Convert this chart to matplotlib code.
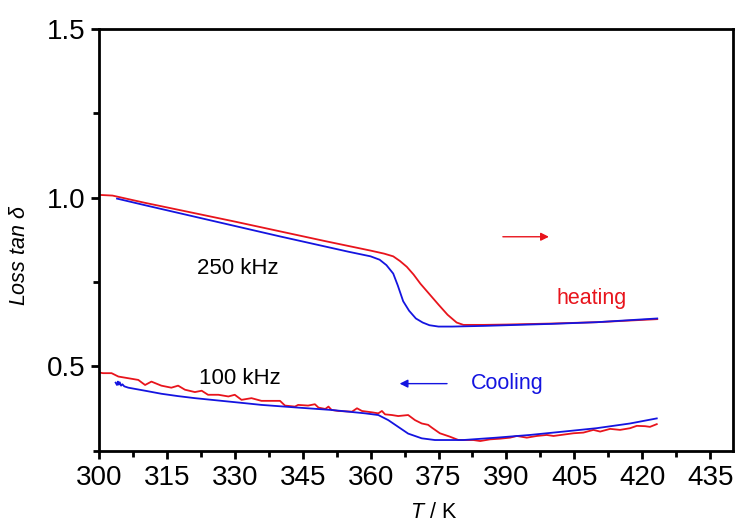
import matplotlib
matplotlib.use("Agg")
import matplotlib.pyplot as plt
from matplotlib.ticker import MultipleLocator

plt.rcParams['font.family'] = ['Liberation Sans', 'DejaVu Sans']
plt.rcParams['mathtext.fontset'] = 'custom'
plt.rcParams['mathtext.it'] = 'Liberation Sans:italic'
plt.rcParams['mathtext.rm'] = 'Liberation Sans'

# 250 kHz, heating
T250_h = [300.0, 303.0, 310.0, 320.0, 330.0, 340.0, 350.0, 355.0, 360.0, 363.0, 365.0,
          366.5, 368.0, 369.5, 371.0, 373.0, 375.0, 377.0, 379.0, 380.5, 385.0, 390.0,
          400.0, 410.0, 423.3]
L250_h = [1.008, 1.006, 0.985, 0.957, 0.929, 0.900, 0.871, 0.857, 0.843, 0.834, 0.826,
          0.812, 0.795, 0.772, 0.745, 0.714, 0.683, 0.653, 0.630, 0.623, 0.623, 0.624,
          0.627, 0.631, 0.640]

# 250 kHz, cooling
T250_c = [304.0, 310.0, 320.0, 330.0, 340.0, 350.0, 355.0, 360.0, 362.0, 363.5, 365.0,
          366.0, 367.2, 368.5, 370.0, 371.5, 373.0, 375.0, 378.0, 385.0, 400.0, 410.0, 423.3]
L250_c = [0.997, 0.978, 0.947, 0.916, 0.885, 0.855, 0.840, 0.826, 0.816, 0.800, 0.775,
          0.740, 0.693, 0.665, 0.642, 0.630, 0.622, 0.618, 0.618, 0.620, 0.626, 0.631, 0.642]

# 100 kHz, heating
T100_h = [300.0, 300.9, 302.8, 304.3, 306.5, 308.7, 310.2, 311.6, 313.8, 316.0, 317.5,
          319.0, 321.2, 322.7, 324.1, 326.4, 328.6, 330.0, 331.5, 333.7, 335.9, 338.2,
          340.0, 341.1, 343.3, 344.0, 346.2, 347.7, 348.5, 350.0, 350.7, 351.4, 352.9,
          355.9, 357.0, 358.1, 360.3, 361.7, 362.5, 363.2, 364.7, 366.1, 368.3, 369.8,
          371.3, 372.7, 373.6, 375.3, 377.5, 379.4, 382.7, 384.2, 386.4, 388.6, 390.8,
          392.3, 394.5, 396.7, 398.9, 400.4, 402.6, 404.8, 407.0, 409.2, 410.7, 412.9,
          415.1, 417.3, 418.8, 420.6, 421.7, 423.2]
L100_h = [0.482, 0.480, 0.480, 0.470, 0.465, 0.460, 0.445, 0.455, 0.443, 0.437, 0.443,
          0.431, 0.424, 0.428, 0.416, 0.416, 0.411, 0.416, 0.401, 0.406, 0.398, 0.398,
          0.398, 0.384, 0.381, 0.386, 0.384, 0.388, 0.378, 0.374, 0.381, 0.371, 0.368,
          0.366, 0.376, 0.368, 0.364, 0.361, 0.368, 0.358, 0.356, 0.353, 0.356, 0.341,
          0.331, 0.327, 0.318, 0.302, 0.292, 0.282, 0.282, 0.279, 0.284, 0.286, 0.289,
          0.294, 0.289, 0.294, 0.297, 0.294, 0.298, 0.302, 0.304, 0.312, 0.307, 0.315,
          0.312, 0.317, 0.324, 0.323, 0.321, 0.329]

# 100 kHz, cooling
T100_c = [303.7, 304.0, 304.2, 304.4, 304.6, 304.9, 305.2, 305.6, 306.5, 310.2, 313.8,
          317.5, 321.2, 324.9, 328.6, 332.3, 335.9, 344.0, 351.4, 358.8, 361.7, 363.9,
          366.1, 368.3, 371.3, 374.2, 380.5, 387.8, 395.2, 402.6, 409.9, 417.3, 423.2]
L100_c = [0.452, 0.445, 0.455, 0.446, 0.453, 0.443, 0.447, 0.441, 0.437, 0.428, 0.419,
          0.412, 0.406, 0.401, 0.396, 0.391, 0.386, 0.378, 0.371, 0.361, 0.356, 0.341,
          0.321, 0.301, 0.287, 0.282, 0.282, 0.289, 0.297, 0.307, 0.317, 0.331, 0.346]

rouge = '#e8141c'
bleu = '#1414e0'

fig = plt.figure(figsize=(7.38, 5.23), dpi=100)
ax = fig.add_axes([0.134, 0.138, 0.859, 0.807])

ax.plot(T250_h, L250_h, color=rouge, lw=1.3)
ax.plot(T250_c, L250_c, color=bleu, lw=1.3)
ax.plot(T100_h, L100_h, color=rouge, lw=1.3)
ax.plot(T100_c, L100_c, color=bleu, lw=1.3)

ax.text(330.7, 0.789, "250 kHz", fontsize=16, ha='center', va='center')
ax.text(331.1, 0.464, "100 kHz", fontsize=16, ha='center', va='center')
ax.text(408.9, 0.702, "heating", fontsize=15.5, color=rouge, ha='center', va='center')
ax.text(390.1, 0.449, "Cooling", fontsize=15.5, color=bleu, ha='center', va='center')

ax.annotate('', xy=(400.0, 0.884), xytext=(388.6, 0.884),
            arrowprops=dict(arrowstyle='-|>', color=rouge, lw=1, mutation_scale=12))
ax.annotate('', xy=(365.8, 0.449), xytext=(377.5, 0.449),
            arrowprops=dict(arrowstyle='-|>', color=bleu, lw=1, mutation_scale=12))

ax.set_xlim(300, 440)
ax.set_ylim(0.25, 1.5)
ax.xaxis.set_major_locator(MultipleLocator(15))
ax.xaxis.set_minor_locator(MultipleLocator(7.5))
ax.yaxis.set_major_locator(MultipleLocator(0.5))
ax.yaxis.set_minor_locator(MultipleLocator(0.25))
ax.yaxis.set_major_formatter(plt.FormatStrFormatter('%.1f'))

for s in ax.spines.values():
    s.set_linewidth(2)
ax.tick_params(which='major', direction='out', length=6, width=2, labelsize=20, pad=4)
ax.tick_params(which='minor', direction='out', length=4, width=2)

ax.set_xlabel("$T$ / K", fontsize=15.5, va='center')
ax.xaxis.set_label_coords(0.528, -0.146)
ax.set_ylabel("Loss $tan$ δ", fontsize=15.5, va='center')
ax.yaxis.set_label_coords(-0.125, 0.464)
ax.yaxis.label.set_fontstyle('italic')

fig.savefig("out.png", dpi=100)
